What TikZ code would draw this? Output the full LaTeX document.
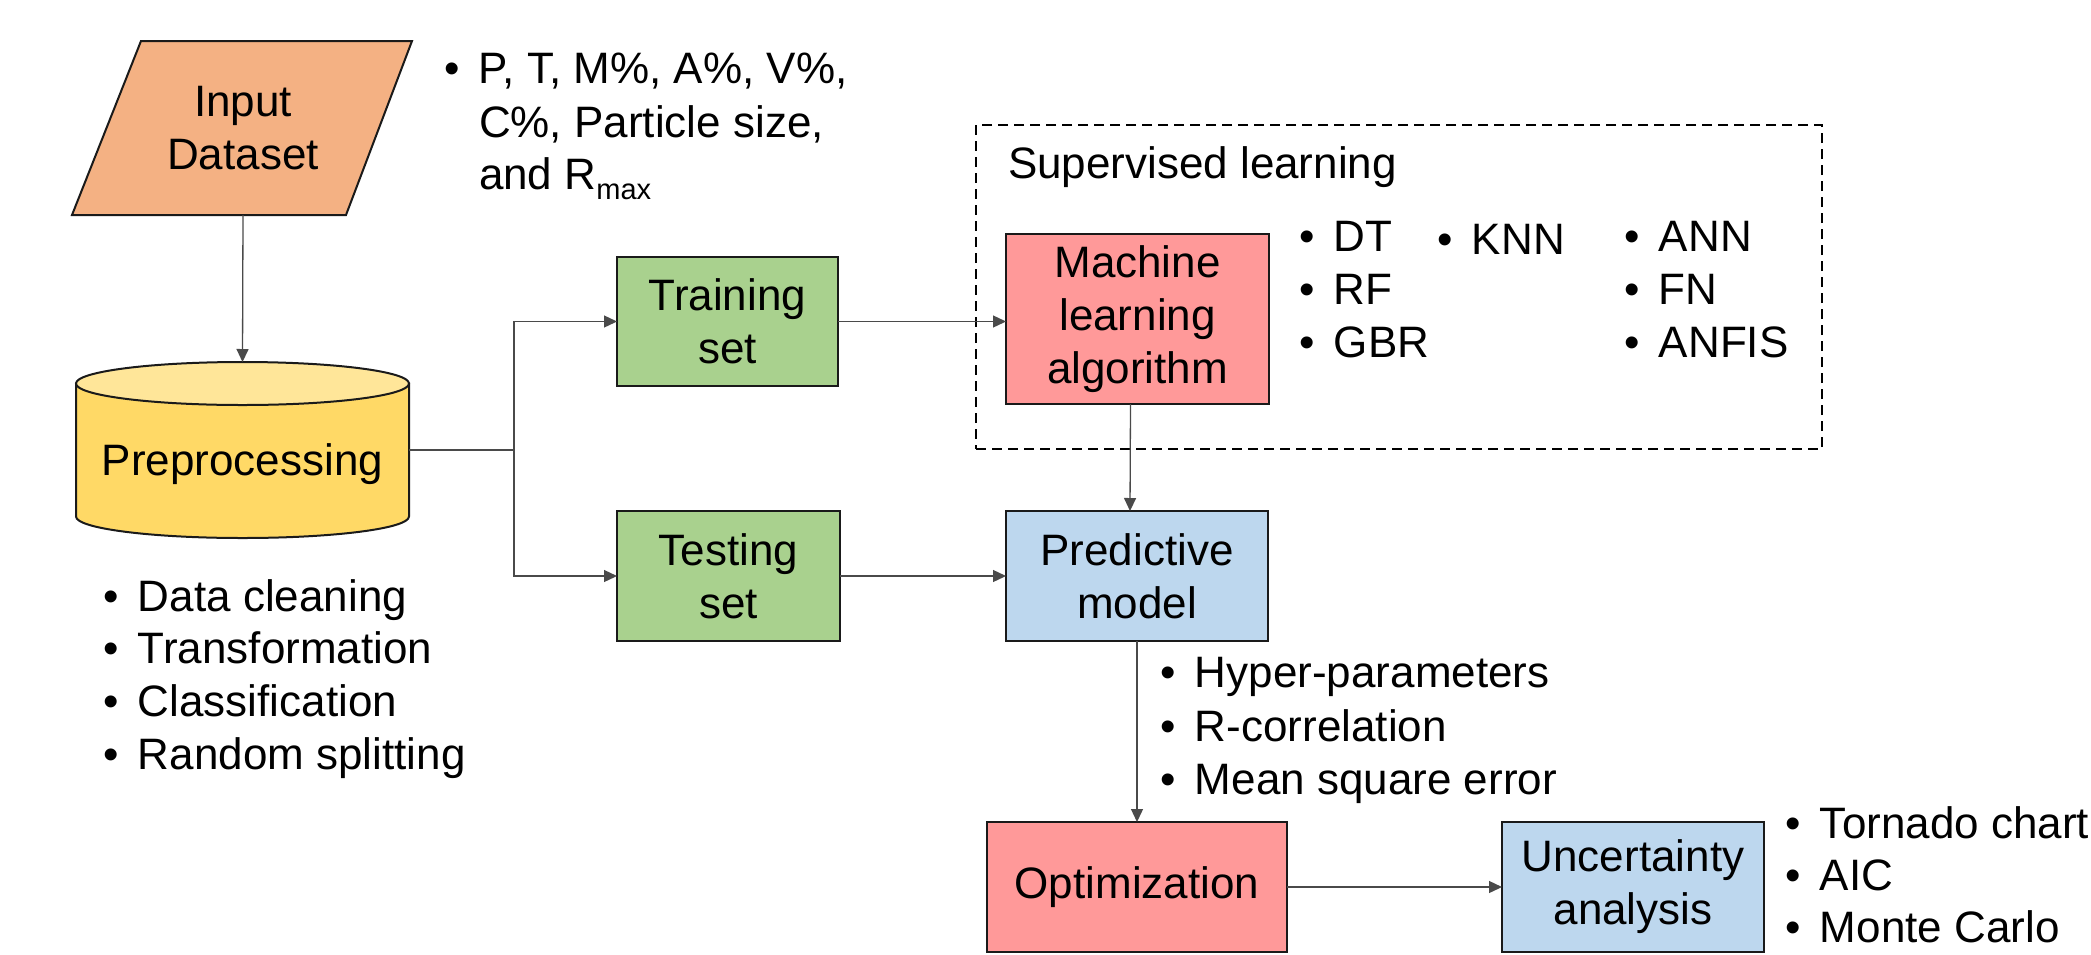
\documentclass[tikz,border=0pt]{standalone}
\usepackage{fontspec}
\setmainfont{Liberation Sans}
\usetikzlibrary{arrows.meta}

\definecolor{inputfill}{HTML}{F4B183}
\definecolor{cylbody}{HTML}{FFD966}
\definecolor{cyltop}{HTML}{FFE699}
\definecolor{setfill}{HTML}{A9D18E}
\definecolor{algofill}{HTML}{FF9999}
\definecolor{modelfill}{HTML}{BDD7EE}
\definecolor{edge}{HTML}{1A1A1A}
\definecolor{wire}{HTML}{4A4A4A}

\newcommand{\bul}{\llap{•\hspace{19pt}}}

\tikzset{
  every node/.style={inner sep=0pt, outer sep=0pt},
  txt/.style={font=\fontsize{44}{53}\selectfont},
  shapeline/.style={draw=edge, line width=2pt},
  box/.style={shapeline, txt, align=center},
  conn/.style={draw=wire, line width=1.3pt},
  arr/.style={conn, -{Triangle[length=13pt,width=12pt]}},
  item/.style={txt, anchor=base west},
}

\begin{document}
\begin{tikzpicture}[x=1pt,y=-1pt]
\useasboundingbox (0,0) rectangle (2091,954);

% input data (parallelogram)
\filldraw[shapeline, fill=inputfill] (141,41) -- (412,41) -- (346,215) -- (72,215) -- cycle;
\node[txt, align=center, minimum width=200pt, minimum height=174pt] (input) at (243,128) {Input\\Dataset};

% preprocessing (cylinder)
\node[minimum width=333pt, minimum height=176pt] (cyl) at (242.5,450) {};
\filldraw[shapeline, fill=cylbody] (76,383.5) -- (76,516.5)
  arc[start angle=180, end angle=0, x radius=166.5, y radius=21.5] -- (409,383.5) -- cycle;
\filldraw[shapeline, fill=cyltop] (242.5,383.5) ellipse[x radius=166.5, y radius=21.5];
\node[txt, anchor=base] (cyltext) at (242.5,475) {Preprocessing};

% input variables
\node[item] (v1) at (479,83) {\bul P, T, M\%, A\%, V\%,};
\node[item] (v2) at (479,137) {C\%, Particle size,};
\node[item] (v3) at (479,189) {and R\raisebox{-10pt}{\fontsize{29}{29}\selectfont max}};

% preprocessing steps
\node[item] (p1) at (138,611) {\bul Data cleaning};
\node[item] (p2) at (138,663) {\bul Transformation};
\node[item] (p3) at (138,716) {\bul Classification};
\node[item] (p4) at (138,769) {\bul Random splitting};

% data split
\node[box, fill=setfill, minimum width=221pt, minimum height=129pt] (train) at (727.5,321.5) {Training\\set};
\node[box, fill=setfill, minimum width=223pt, minimum height=130pt] (test) at (728.5,576) {Testing\\set};

% supervised learning group
\node[draw=black, line width=2pt, dash pattern=on 10pt off 6pt, minimum width=846pt, minimum height=324pt] (sup) at (1399,287) {};
\node[item] (suptitle) at (1008,178) {Supervised learning};

\node[box, fill=algofill, minimum width=263pt, minimum height=170pt] (ml) at (1137.5,319) {Machine\\learning\\algorithm};

\node[item] (a1) at (1334,251) {\bul DT};
\node[item] (a2) at (1334,304) {\bul RF};
\node[item] (a3) at (1334,357) {\bul GBR};
\node[item] (a4) at (1472,254) {\bul KNN};
\node[item] (a5) at (1659,251) {\bul ANN};
\node[item] (a6) at (1659,304) {\bul FN};
\node[item] (a7) at (1659,357) {\bul ANFIS};

% model, optimization, uncertainty
\node[box, fill=modelfill, minimum width=262pt, minimum height=130pt] (pred) at (1137,576) {Predictive\\model};
\node[box, fill=algofill, minimum width=300pt, minimum height=130pt] (opt) at (1137,887) {Optimization};
\node[box, fill=modelfill, minimum width=262pt, minimum height=130pt] (unc) at (1633,887) {Uncertainty\\analysis};

\node[item] (m1) at (1195,687) {\bul Hyper-parameters};
\node[item] (m2) at (1195,741) {\bul R-correlation};
\node[item] (m3) at (1195,794) {\bul Mean square error};

\node[item] (u1) at (1820,838) {\bul Tornado chart};
\node[item] (u2) at (1820,890) {\bul AIC};
\node[item] (u3) at (1820,942) {\bul Monte Carlo};

% connectors
\coordinate (split) at (514,450);
\draw[arr] (input.south) -- (cyl.north);
\draw[conn] (cyl.east) -- (split);
\draw[arr] (split) |- (train.west);
\draw[arr] (split) |- (test.west);
\draw[arr] (train.east) -- (train.east -| ml.west);
\draw[arr] ([xshift=-7pt]ml.south) -- ([xshift=-7pt]pred.north);
\draw[arr] (test.east) -- (pred.west);
\draw[arr] (pred.south) -- (opt.north);
\draw[arr] (opt.east) -- (unc.west);
\end{tikzpicture}
\end{document}
